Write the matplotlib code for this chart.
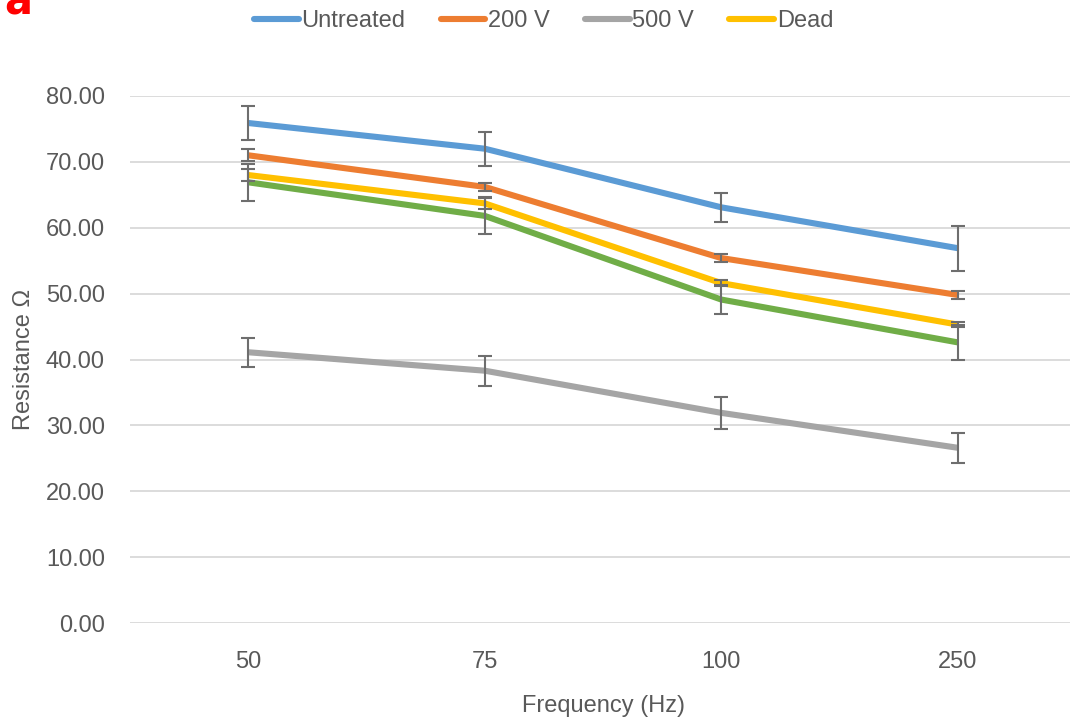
import numpy as np
import matplotlib.pyplot as plt

plt.rcParams['font.family'] = ['Liberation Sans Narrow', 'Liberation Sans', 'DejaVu Sans']

freqs = ['50', '75', '100', '250']

untreated = [75.9, 72.0, 63.1, 56.9]
untreated_err = [2.6, 2.6, 2.2, 3.4]
v200 = [71.0, 66.2, 55.4, 49.8]
v200_err = [0.9, 0.6, 0.6, 0.6]
v500 = [41.1, 38.3, 31.9, 26.6]
v500_err = [2.2, 2.3, 2.4, 2.3]
dead = [68.0, 63.7, 51.6, 45.3]
dead_err = [0.9, 0.9, 0.4, 0.4]
other = [66.9, 61.8, 49.1, 42.6]
other_err = [2.8, 2.7, 2.2, 2.6]

series = [
    ('Untreated', untreated, untreated_err, '#5B9BD5'),
    ('200 V', v200, v200_err, '#ED7D31'),
    ('500 V', v500, v500_err, '#A5A5A5'),
    ('Dead', dead, dead_err, '#FFC000'),
    ('_nolegend_', other, other_err, '#70AD47'),
]

fig = plt.figure(figsize=(10.7, 7.18), dpi=100)
ax = fig.add_axes([130 / 1070, 95 / 718, 946 / 1070, 527 / 718])

x = np.arange(len(freqs))
for name, y, err, col in series:
    ax.plot(x, y, color=col, lw=4.4, label=name, solid_capstyle='butt', zorder=3)
    ax.errorbar(x, y, yerr=err, fmt='none', ecolor='#6e6e6e', elinewidth=1.5,
                capsize=4.7, capthick=1.5, zorder=4)

ax.set_xlim(-0.5, 3.5)
ax.set_ylim(0, 80)
ax.set_yticks(np.arange(0, 81, 10))
ax.set_yticklabels(['%.2f' % v for v in np.arange(0, 81, 10)])
ax.set_xticks(x)
ax.set_xticklabels(freqs)
ax.grid(axis='y', color='#d9d9d9', lw=1.3, zorder=0)
ax.set_axisbelow(True)
for s in ax.spines.values():
    s.set_visible(False)
ax.tick_params(length=0, labelsize=17, colors='#595959', pad=18)
ax.tick_params(axis='x', pad=20)

ax.set_ylabel('Resistance Ω', fontsize=17, color='#595959', labelpad=8)
ax.set_xlabel('Frequency (Hz)', fontsize=17, color='#595959', labelpad=16)

ax.legend(loc='center', ncol=4, frameon=False, fontsize=17,
          handlelength=1.9, handletextpad=0.1, columnspacing=1.5,
          labelcolor='#595959')
leg = ax.get_legend()
leg.set_bbox_to_anchor((0.508, 1 - 21 / 718), transform=fig.transFigure)
for h in leg.get_lines():
    h.set_solid_capstyle('round')

fig.text(0.004, 0.996, 'a', color='#ff0000', fontsize=30, fontweight='bold',
         ha='left', va='center', family='DejaVu Sans')

fig.savefig('out.png', dpi=100)
